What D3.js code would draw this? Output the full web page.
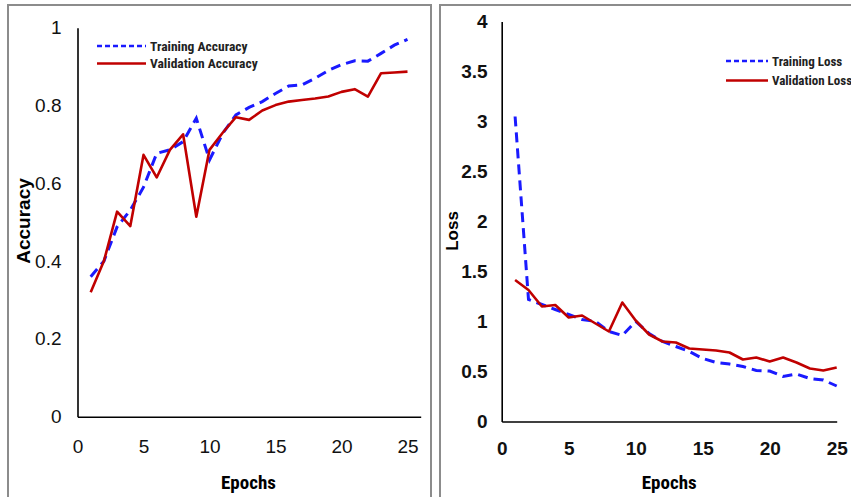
<!DOCTYPE html>
<html lang="en">

<head>
    <meta charset="UTF-8">
    <script src="https://d3js.org/d3.v7.min.js"></script>
    <style>
        body { margin: 0; background: #fff; }
        svg { display: block; font-family: "Liberation Sans Narrow", "Roboto Condensed", "Liberation Sans", sans-serif; }
    </style>
    <title>accuracy_loss</title>
</head>

<body>
    <script>

        // epochs and values
        var epochs = d3.range(1, 26)

        var trainAcc = [0.36, 0.40, 0.488, 0.531, 0.59, 0.677, 0.686, 0.707, 0.767, 0.66,
            0.728, 0.776, 0.795, 0.81, 0.831, 0.85, 0.853, 0.87, 0.89, 0.905,
            0.915, 0.914, 0.934, 0.955, 0.97]
        var valAcc = [0.32, 0.40, 0.527, 0.49, 0.673, 0.615, 0.686, 0.726, 0.514, 0.686,
            0.73, 0.77, 0.763, 0.787, 0.801, 0.81, 0.814, 0.818, 0.823, 0.835,
            0.842, 0.823, 0.883, 0.885, 0.887]

        var trainLoss = [3.05, 1.22, 1.17, 1.12, 1.07, 1.02, 1.0, 0.90, 0.86, 1.0,
            0.88, 0.80, 0.75, 0.70, 0.63, 0.59, 0.575, 0.55, 0.51, 0.505,
            0.45, 0.475, 0.43, 0.415, 0.355]
        var valLoss = [1.415, 1.315, 1.15, 1.165, 1.04, 1.06, 0.98, 0.90, 1.19, 1.01,
            0.87, 0.80, 0.79, 0.73, 0.72, 0.71, 0.69, 0.62, 0.64, 0.60,
            0.64, 0.59, 0.53, 0.51, 0.54]

        var xTicks = [0, 5, 10, 15, 20, 25]
        var accTicks = [0, 0.2, 0.4, 0.6, 0.8, 1]
        var lossTicks = [0, 0.5, 1, 1.5, 2, 2.5, 3, 3.5, 4]

        var blue = "#1a1aff",
            red = "#c00000"

        var svg = d3.select("body").append("svg")
            .attr("width", 851)
            .attr("height", 497)

        function drawPanel(p) {
            var g = svg.append("g")

            // grey frame round each panel
            g.append("rect")
                .attr("x", p.frame[0]).attr("y", p.frame[1])
                .attr("width", p.frame[2]).attr("height", p.frame[3])
                .attr("fill", "none")
                .attr("stroke", "#8c8c8c")
                .attr("stroke-width", 2)

            var x = d3.scaleLinear().domain(p.xDomain).range(p.xRange)
            var y = d3.scaleLinear().domain(p.yDomain).range(p.yRange)

            g.append("g")
                .attr("transform", "translate(0," + p.yRange[0] + ")")
                .call(d3.axisBottom(x).tickValues(xTicks).tickSize(0).tickPadding(p.xPad).tickSizeOuter(0))
            g.append("g")
                .attr("transform", "translate(" + p.xRange[0] + ",0)")
                .call(d3.axisLeft(y).tickValues(p.yTicks).tickFormat(d3.format("~g"))
                    .tickSize(0).tickPadding(p.yPad).tickSizeOuter(0))

            g.selectAll(".domain").attr("stroke", "#000").attr("stroke-width", 1.6)
            g.selectAll(".tick text")
                .attr("font-family", null)
                .attr("font-size", 19)
                .attr("font-weight", p.tickWeight)
                .attr("fill", "#111")

            // axis titles
            g.append("text")
                .attr("x", (x(0) + x(25)) / 2 + p.titleShift)
                .attr("y", 489)
                .attr("text-anchor", "middle")
                .attr("font-size", 19)
                .attr("font-weight", "bold")
                .text("Epochs")
            g.append("text")
                .attr("transform", "translate(" + p.yTitle[0] + "," + p.yTitle[1] + ") rotate(-90)")
                .attr("text-anchor", "middle")
                .attr("font-family", "'Liberation Sans', Arial, sans-serif")
                .attr("font-size", p.yTitle[2])
                .attr("font-weight", "bold")
                .text(p.yLabel)

            var line = d3.line()
                .x(function (d, i) { return x(epochs[i]) })
                .y(function (d) { return y(d) })

            g.append("path")
                .datum(p.train)
                .attr("d", line)
                .attr("fill", "none")
                .attr("stroke", blue)
                .attr("stroke-width", 3)
                .attr("stroke-dasharray", "10,6")
            g.append("path")
                .datum(p.val)
                .attr("d", line)
                .attr("fill", "none")
                .attr("stroke", red)
                .attr("stroke-width", 2.6)
                .attr("stroke-linejoin", "round")

            // legend
            var lg = g.append("g").attr("transform", "translate(" + p.legend[0] + "," + p.legend[1] + ")")
            var items = [
                { name: p.names[0], color: blue, dash: "5,3" },
                { name: p.names[1], color: red, dash: null }
            ]
            items.forEach(function (it, i) {
                lg.append("line")
                    .attr("x1", 0).attr("x2", p.legend[2])
                    .attr("y1", i * p.legend[3]).attr("y2", i * p.legend[3])
                    .attr("stroke", it.color)
                    .attr("stroke-width", 2.6)
                    .attr("stroke-dasharray", it.dash)
                lg.append("text")
                    .attr("x", p.legend[2] + 4)
                    .attr("y", i * p.legend[3])
                    .attr("dy", "0.35em")
                    .attr("font-size", p.legend[4])
                    .attr("font-weight", "bold")
                    .attr("fill", "#222")
                    .text(it.name)
            })
        }

        drawPanel({
            frame: [8, 5, 423, 510],
            xDomain: [0, 26], xRange: [77.5, 420.7],
            yDomain: [0, 1], yRange: [416.7, 27.7],
            yTicks: accTicks, xPad: 23, yPad: 16, tickWeight: "normal",
            yLabel: "Accuracy", yTitle: [30, 221, 19], titleShift: 6,
            train: trainAcc, val: valAcc,
            names: ["Training Accuracy", "Validation Accuracy"],
            legend: [97, 46, 49, 17.5, 13.5]
        })

        drawPanel({
            frame: [440, 5, 430, 510],
            xDomain: [0, 25], xRange: [501.7, 836.7],
            yDomain: [0, 4], yRange: [421.5, 21.5],
            yTicks: lossTicks, xPad: 20, yPad: 14, tickWeight: "bold",
            yLabel: "Loss", yTitle: [458, 231, 17], titleShift: 0,
            train: trainLoss, val: valLoss,
            names: ["Training Loss", "Validation Loss"],
            legend: [726, 61, 42, 19.5, 13]
        })

    </script>
</body>

</html>
